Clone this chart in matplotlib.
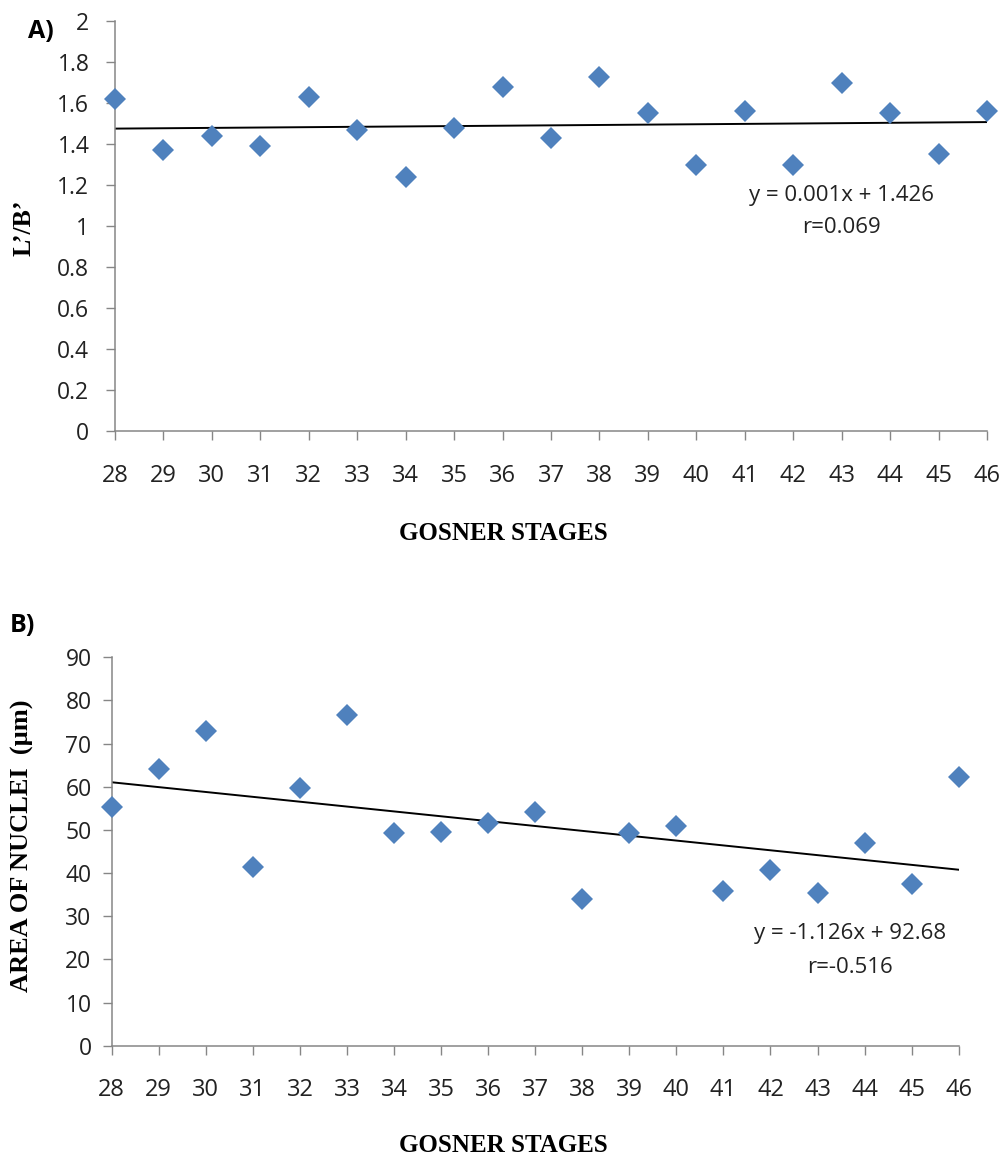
import numpy as np
import matplotlib
matplotlib.use("Agg")
from matplotlib import pyplot

stages = list(range(28, 47))

# L'/B' ratio per Gosner stage
ratio_lb = [1.62, 1.37, 1.44, 1.39, 1.63, 1.47, 1.24, 1.48, 1.68, 1.43,
            1.73, 1.55, 1.30, 1.56, 1.30, 1.70, 1.55, 1.35, 1.56]

# area of nuclei (µm) per Gosner stage
nuclei_area = [55.4, 64.1, 73.0, 41.5, 59.6, 76.6, 49.2, 49.6, 51.7, 54.1,
               33.9, 49.2, 50.8, 35.9, 40.7, 35.3, 46.9, 37.5, 62.3]

eq_a = ["y = 0.001x + 1.426", "r=0.069"]
eq_b = ["y = -1.126x + 92.68", "r=-0.516"]

blue = "#4F81BD"
grey = "#868686"
tick_font = "Open Sans"
serif = "Liberation Serif"


def style_axes(ax, ypad, xpad):
    for side in ["top", "right"]:
        ax.spines[side].set_visible(False)
    for side in ["left", "bottom"]:
        ax.spines[side].set_color(grey)
        ax.spines[side].set_linewidth(1.1)
    ax.tick_params(axis="both", direction="out", length=6.5, width=1.0, color=grey, labelcolor="#222222")
    ax.tick_params(axis="y", pad=ypad, labelsize=16.5)
    ax.tick_params(axis="x", pad=xpad, labelsize=17)
    for lab in ax.get_xticklabels() + ax.get_yticklabels():
        lab.set_fontfamily(tick_font)


def scatter_with_trend(ax, x, y):
    x = np.array(x, dtype=float)
    y = np.array(y, dtype=float)
    slope, intercept = np.polyfit(x, y, 1)
    ax.plot([x[0], x[-1]], [slope * x[0] + intercept, slope * x[-1] + intercept],
            color="black", lw=1.4, zorder=2)
    ax.plot(x, y, linestyle="none", marker="D", ms=11.5, color=blue,
            markeredgewidth=0, clip_on=False, zorder=3)


fig = pyplot.figure(figsize=(10.05, 11.6), dpi=100)

# panel A
ax1 = fig.add_axes([115 / 1005, 1 - 431 / 1160, (987 - 115) / 1005, (431 - 21.3) / 1160])
scatter_with_trend(ax1, stages, ratio_lb)
ax1.set_xlim(28, 46)
ax1.set_ylim(0, 2)
ax1.set_xticks(stages)
ax1.set_yticks(np.arange(0, 2.01, 0.2))
ax1.set_yticklabels(["0", "0.2", "0.4", "0.6", "0.8", "1", "1.2", "1.4", "1.6", "1.8", "2"])
style_axes(ax1, ypad=12, xpad=17)
ax1.text(43.0, 1.151, eq_a[0], ha="center", va="center", fontsize=16, family=tick_font, color="#222222")
ax1.text(43.0, 0.995, eq_a[1], ha="center", va="center", fontsize=16, family=tick_font, color="#222222")

# panel B
ax2 = fig.add_axes([111.7 / 1005, 1 - 1045.7 / 1160, (958.7 - 111.7) / 1005, (1045.7 - 657.3) / 1160])
scatter_with_trend(ax2, stages, nuclei_area)
ax2.set_xlim(28, 46)
ax2.set_ylim(0, 90)
ax2.set_xticks(stages)
ax2.set_yticks(range(0, 91, 10))
style_axes(ax2, ypad=8, xpad=17)
ax2.text(43.69, 25.9, eq_b[0], ha="center", va="center", fontsize=16, family=tick_font, color="#222222")
ax2.text(43.69, 18.2, eq_b[1], ha="center", va="center", fontsize=16, family=tick_font, color="#222222")

# axis titles and panel letters
fig.text(24 / 1005, 1 - 228 / 1160, "L\u2019/B\u2019", rotation=90, ha="center", va="center",
         fontsize=18.5, fontweight="bold", family=serif)
fig.text(22 / 1005, 1 - 846 / 1160, "AREA OF NUCLEI  (\u00b5m)", rotation=90, ha="center", va="center",
         fontsize=19, fontweight="bold", family=serif)
fig.text(503 / 1005, 1 - 533 / 1160, "GOSNER STAGES", ha="center", va="center",
         fontsize=18, fontweight="bold", family=serif)
fig.text(503 / 1005, 1 - 1146 / 1160, "GOSNER STAGES", ha="center", va="center",
         fontsize=18, fontweight="bold", family=serif)
fig.text(41 / 1005, 1 - 31 / 1160, "A)", ha="center", va="center", fontsize=18, fontweight="bold", family=tick_font)
fig.text(22 / 1005, 1 - 626 / 1160, "B)", ha="center", va="center", fontsize=18, fontweight="bold", family=tick_font)

fig.savefig("out.png", dpi=100)
